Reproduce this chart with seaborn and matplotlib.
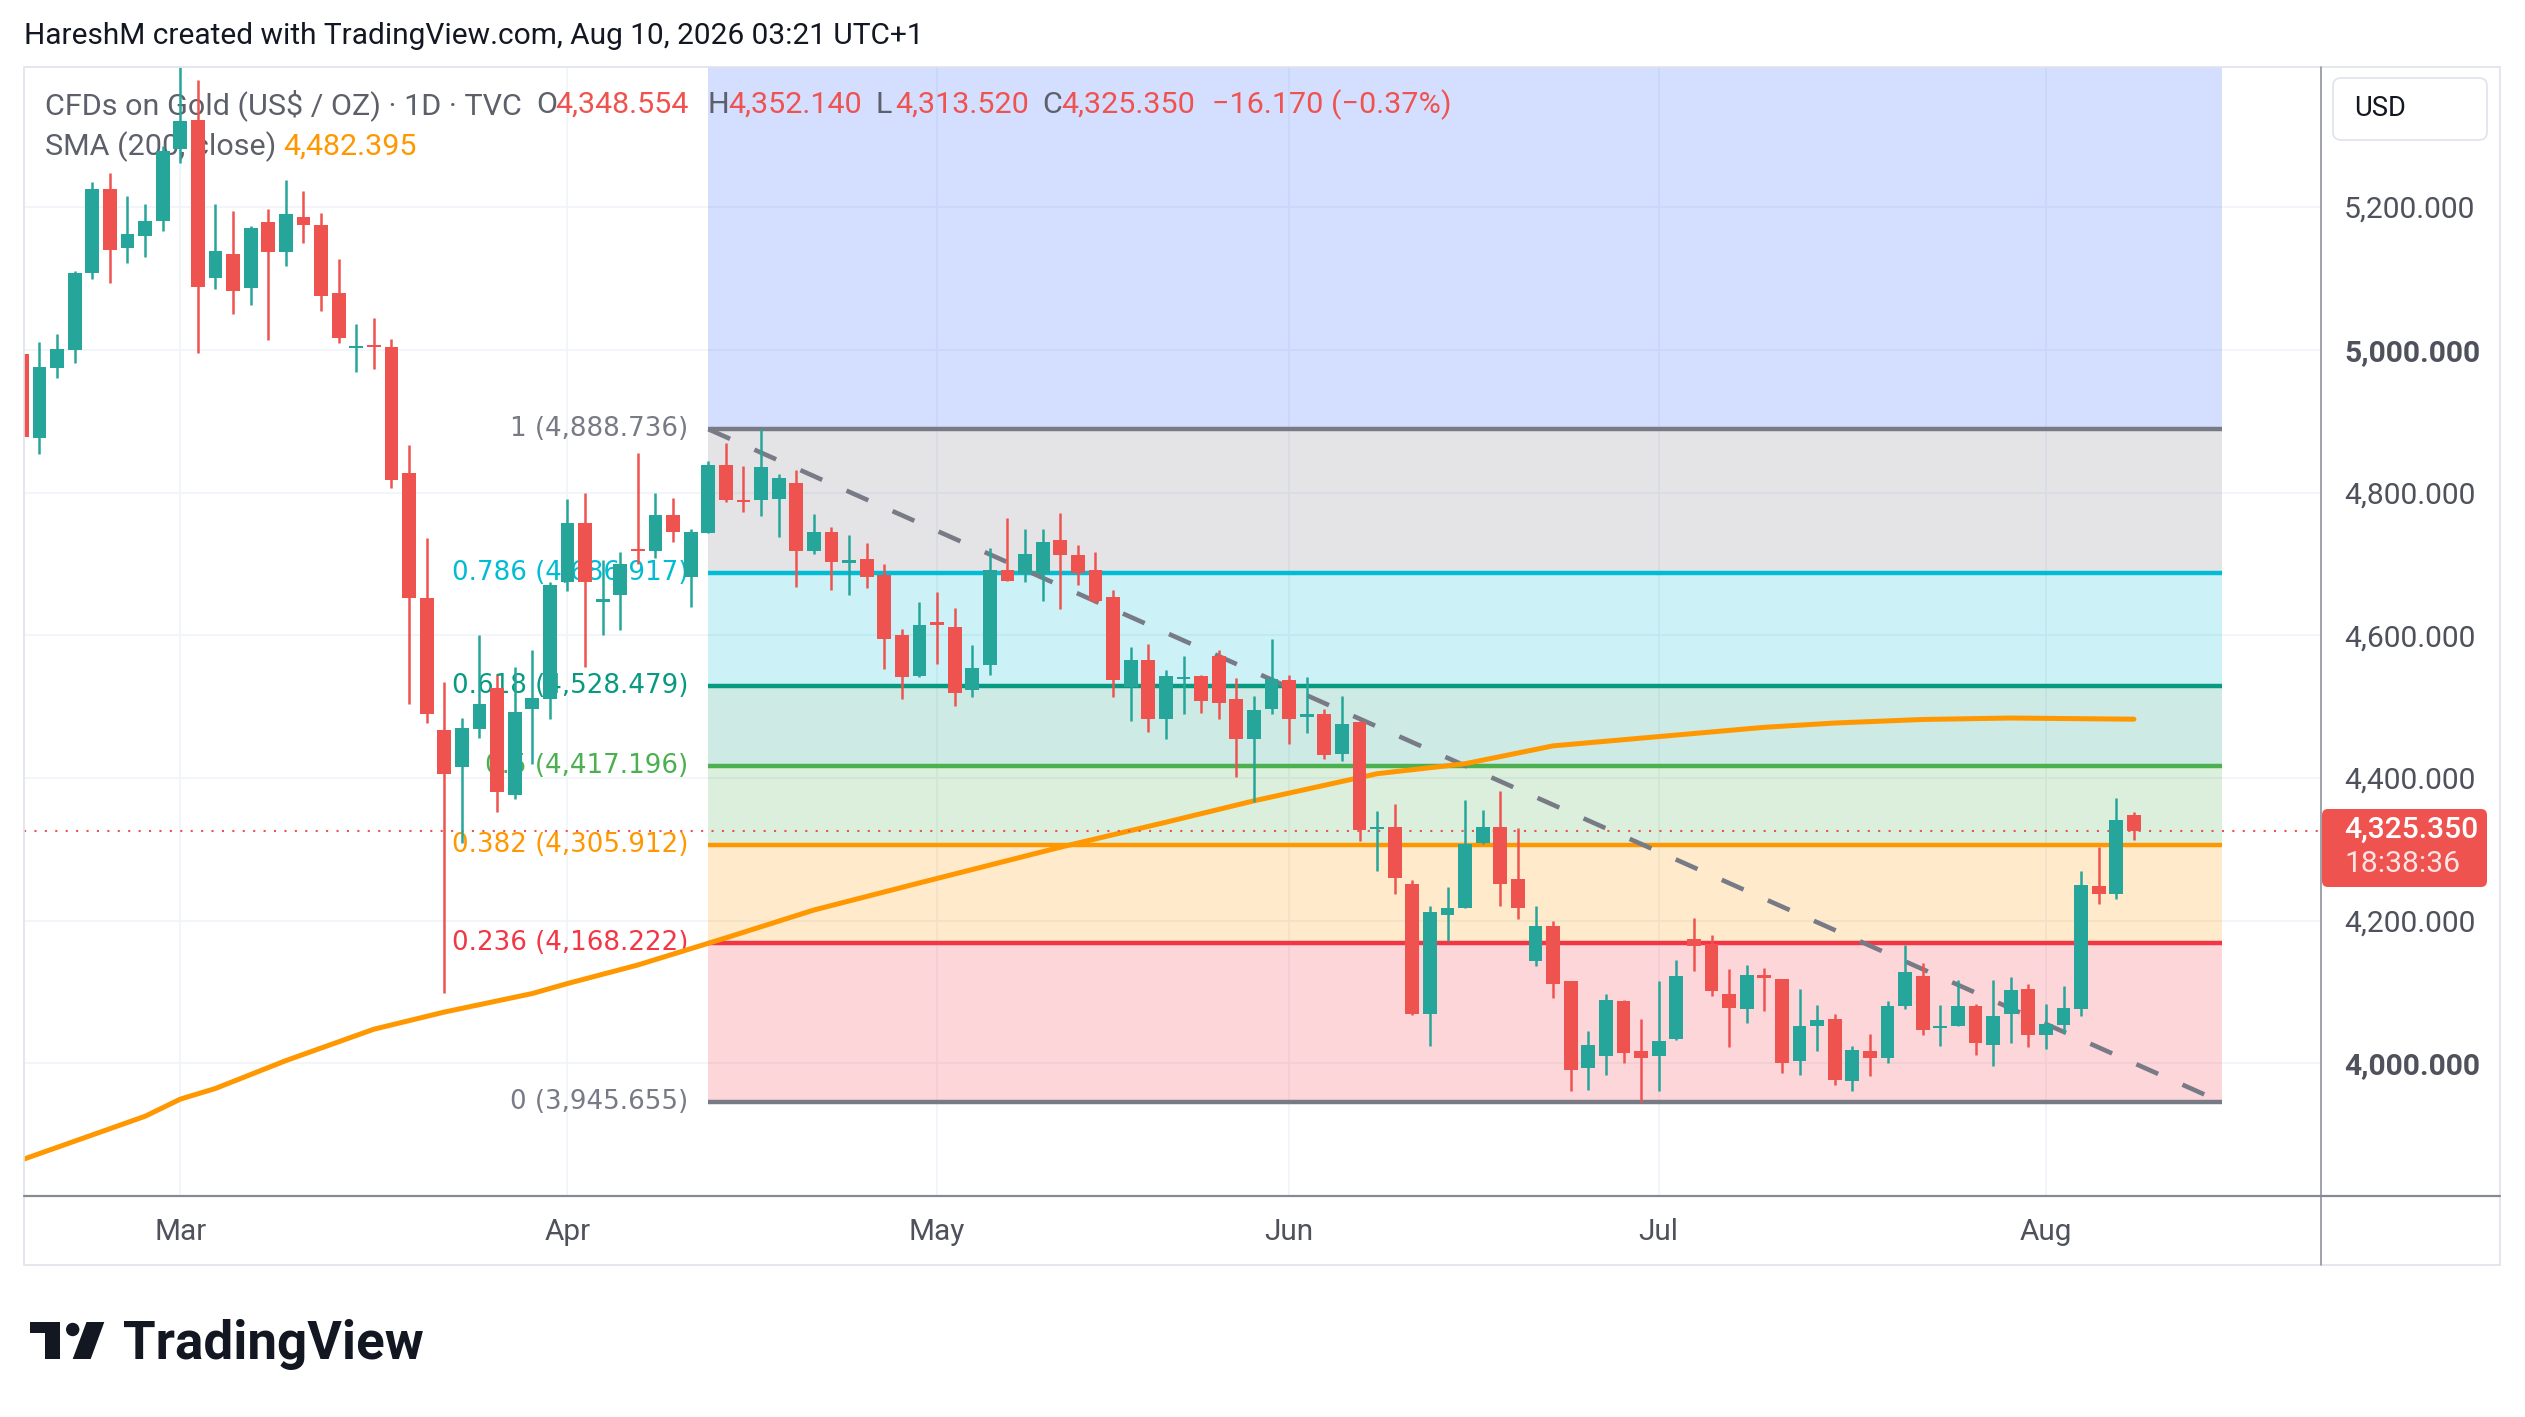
import matplotlib
matplotlib.use("Agg")
import matplotlib.pyplot as plt
import numpy as np
import pandas as pd
import seaborn as sns
from matplotlib.patches import Polygon, Circle, FancyBboxPatch, Rectangle

# ---------------- data (bar index 0 = Feb 17 2026, 120 = Aug 10 2026) ----------------
OPEN = [4994, 4876, 4975, 5000, 5107, 5225, 5143, 5159, 5180, 5282,
        5322, 5101, 5134, 5086, 5179, 5137, 5186, 5175, 5079, 5002,
        5007, 5004, 4828, 4652, 4467, 4415, 4468, 4526, 4376, 4497,
        4511, 4675, 4757, 4647, 4657, 4721, 4718, 4768, 4682, 4743,
        4839, 4789, 4789, 4791, 4814, 4718, 4745, 4701, 4707, 4685,
        4600, 4543, 4618, 4612, 4523, 4559, 4692, 4686, 4686, 4734,
        4712, 4691, 4653, 4528, 4566, 4483, 4539, 4543, 4571, 4511,
        4454, 4497, 4537, 4486, 4489, 4433, 4479, 4329, 4331, 4252,
        4069, 4208, 4218, 4309, 4331, 4258, 4144, 4192, 4116, 3994,
        4010, 4087, 4018, 4011, 4034, 4175, 4167, 4098, 4076, 4124,
        4119, 4003, 4052, 4062, 3976, 4017, 4008, 4081, 4123, 4050,
        4052, 4080, 4026, 4069, 4104, 4040, 4054, 4076, 4249, 4238,
        4348.554]
HIGH = [4998, 5011, 5022, 5110, 5235, 5248, 5216, 5204, 5285, 5396,
        5378, 5204, 5194, 5173, 5197, 5238, 5223, 5192, 5127, 5036,
        5045, 5015, 4866, 4736, 4535, 4484, 4601, 4545, 4555, 4580,
        4675, 4791, 4800, 4705, 4717, 4855, 4800, 4793, 4749, 4844,
        4869, 4837, 4888.7, 4826, 4832, 4770, 4752, 4740, 4729, 4700,
        4609, 4647, 4660, 4638, 4587, 4722, 4764, 4749, 4749, 4771,
        4726, 4717, 4664, 4584, 4588, 4552, 4571, 4545, 4580, 4540,
        4515, 4595, 4545, 4541, 4497, 4515, 4480, 4354, 4364, 4257,
        4220, 4247, 4369, 4355, 4382, 4330, 4221, 4199, 4116, 4045,
        4097, 4089, 4063, 4116, 4145, 4204, 4180, 4133, 4138, 4134,
        4119, 4104, 4082, 4069, 4025, 4041, 4088, 4166, 4141, 4082,
        4117, 4083, 4117, 4121, 4111, 4083, 4108, 4269, 4304, 4372,
        4352.140]
LOW = [4858, 4854, 4960, 4981, 5099, 5093, 5122, 5130, 5167, 5261,
       4996, 5085, 5050, 5063, 5014, 5118, 5149, 5055, 5010, 4969,
       4973, 4807, 4503, 4477, 4099, 4309, 4456, 4352, 4370, 4419,
       4483, 4662, 4555, 4601, 4607, 4700, 4708, 4730, 4639, 4743,
       4786, 4772, 4767, 4737, 4668, 4714, 4663, 4657, 4666, 4553,
       4510, 4541, 4560, 4501, 4514, 4545, 4676, 4674, 4648, 4637,
       4670, 4645, 4513, 4480, 4465, 4454, 4489, 4491, 4482, 4402,
       4367, 4489, 4447, 4463, 4427, 4424, 4312, 4269, 4238, 4068,
       4025, 4171, 4218, 4308, 4220, 4202, 4137, 4092, 3961, 3963,
       3984, 4001, 3946, 3961, 4033, 4129, 4094, 4023, 4056, 4074,
       3987, 3984, 4018, 3970, 3961, 3983, 4001, 4077, 4040, 4024,
       4052, 4012, 3997, 4029, 4023, 4020, 4042, 4066, 4224, 4231,
       4313.520]
CLOSE = [4878, 4976, 5001, 5108, 5225, 5140, 5162, 5180, 5278, 5320,
         5088, 5139, 5083, 5171, 5137, 5190, 5175, 5076, 5017, 5005,
         5004, 4818, 4652, 4490, 4406, 4470, 4504, 4381, 4492, 4512,
         4670, 4757, 4675, 4651, 4700, 4718, 4768, 4744, 4744, 4839,
         4789, 4786, 4836, 4820, 4718, 4744, 4702, 4706, 4681, 4595,
         4541, 4615, 4615, 4519, 4554, 4691, 4676, 4714, 4731, 4713,
         4687, 4648, 4537, 4566, 4483, 4543, 4542, 4508, 4505, 4454,
         4495, 4539, 4483, 4489, 4432, 4476, 4327, 4332, 4260, 4069,
         4212, 4218, 4308, 4331, 4251, 4218, 4192, 4112, 3991, 4026,
         4089, 4015, 4007, 4032, 4123, 4164, 4101, 4078, 4124, 4120,
         4001, 4053, 4061, 3977, 4019, 4008, 4081, 4128, 4047, 4053,
         4081, 4028, 4066, 4103, 4040, 4055, 4078, 4250, 4238, 4341.52,
         4325.350]

MONTH_LABELS = ["Mar", "Apr", "May", "Jun", "Jul", "Aug"]
MONTH_BARS = [9, 31, 52, 72, 93, 115]
PRICE_TICKS = [4000, 4200, 4400, 4600, 4800, 5000, 5200]

SMA_BARS = [0, 7, 9, 11, 15, 20, 24, 29, 31, 35, 40, 45, 51, 59, 65, 70, 77,
            82, 87, 93, 99, 103, 108, 113, 120]
SMA_VALUES = [3865, 3926, 3950, 3965, 4004, 4048, 4072, 4098, 4112, 4138, 4176,
              4215, 4253, 4303, 4338, 4368, 4406, 4420, 4445, 4458, 4471, 4477,
              4482, 4484, 4482.395]

FIB_NAMES = ["0", "0.236", "0.382", "0.5", "0.618", "0.786", "1"]
FIB_LEVELS = [3945.655, 4168.222, 4305.912, 4417.196, 4528.479, 4686.917, 4888.736]
FIB_BARS = [39, 125]
TREND_BARS = [39, 125]
TREND_VALUES = [4888.736, 3945.655]

TITLE = "HareshM created with TradingView.com, Aug 10, 2026 03:21 UTC+1"
SYMBOL = "CFDs on Gold (US$ / OZ) \u00b7 1D \u00b7 TVC"
COUNTDOWN = "18:38:36"

# ---------------- style ----------------
GREEN, RED = "#26a69a", "#ef5350"
FIB_COLORS = ["#787b86", "#f23645", "#ff9800", "#4caf50", "#089981", "#00bcd4", "#787b86"]
BLUE = "#2962ff"
GRID = "#f0f3fa"
AXTXT = "#4f525c"
LEGTXT = "#5d606b"

sns.set_theme(style="white")
plt.rcParams['font.family'] = ['Roboto', 'DejaVu Sans']

W, H = 2525, 1417
fig = plt.figure(figsize=(W / 100, H / 100), dpi=100)
fig.patch.set_facecolor("white")
renderer = fig.canvas.get_renderer()


def fit(txt, target, family=None, weight="normal"):
    kw = {"family": family} if family else {}
    t = fig.text(0, 0, txt, fontsize=20, weight=weight, **kw)
    bb = t.get_window_extent(renderer)
    t.remove()
    return 20 * target / bb.width, bb.height / 20


PL, PT, PR, PB = 24, 67, 2321, 1196
ax = fig.add_axes([PL / W, 1 - PB / H, (PR - PL) / W, (PB - PT) / H])
ov = fig.add_axes([0, 0, 1, 1])
ov.set_xlim(0, W)
ov.set_ylim(H, 0)
ov.axis("off")
ov.set_zorder(5)

ax.set_facecolor("white")
ax.set_xlim(0.12, 130.63)
ax.set_ylim(3814.3, 5396.2)
for s in ax.spines.values():
    s.set_visible(False)

# grid
for b in MONTH_BARS:
    ax.axvline(b, color=GRID, lw=1.2, zorder=0)
for p in PRICE_TICKS:
    ax.axhline(p, color=GRID, lw=1.2, zorder=0)

# fib retracement
ax.fill_between(FIB_BARS, FIB_LEVELS[-1], 5600, color=BLUE, alpha=0.2, lw=0, zorder=1)
for i in range(len(FIB_LEVELS) - 1):
    ax.fill_between(FIB_BARS, FIB_LEVELS[i], FIB_LEVELS[i + 1], color=FIB_COLORS[i + 1],
                    alpha=0.2, lw=0, zorder=1)
fib_fs, _ = fit("0.382 (4,305.912)", 237, family="DejaVu Sans")
for name, lv, c in zip(FIB_NAMES, FIB_LEVELS, FIB_COLORS):
    ax.hlines(lv, FIB_BARS[0], FIB_BARS[1], color=c, lw=3.2, zorder=2)
    ax.text(37.85, lv, f"{name} ({lv:,.3f})", ha="right", va="center", color=c,
            fontsize=fib_fs, family="DejaVu Sans", zorder=1.5)

# trend line and SMA
sns.lineplot(x=TREND_BARS, y=TREND_VALUES, ax=ax, color="#787b86", lw=3.3,
             linestyle=(0, (5.2, 5.8)), zorder=3)
sns.lineplot(x=SMA_BARS, y=SMA_VALUES, ax=ax, color="#ff9800", lw=3.6, zorder=3)

# candles
n = len(OPEN)
df = pd.DataFrame({"bar": np.arange(n), "open": OPEN, "high": HIGH,
                   "low": LOW, "close": CLOSE})
up = df["close"] >= df["open"]
cols = np.where(up, GREEN, RED)
ax.vlines(df["bar"], df["low"], df["high"], colors=cols, lw=1.8, zorder=4)
lo = np.minimum(df["open"], df["close"])
hgt = np.maximum((df["close"] - df["open"]).abs(), 2.8)
ax.bar(df["bar"], hgt, bottom=lo, width=0.78, color=cols, linewidth=0, zorder=5)

# last price dotted line
last = CLOSE[-1]
ax.axhline(last, color=RED, lw=1.5, ls=(0, (1, 4)), zorder=3.6)

# axes ticks
ax_fs, _ = fit("5,200.000", 132)
ax.yaxis.tick_right()
ax.set_yticks(PRICE_TICKS)
ax.set_yticklabels([f"{v:,.3f}" for v in PRICE_TICKS])
ax.tick_params(axis="y", length=0, pad=23 * 0.72, labelsize=ax_fs, labelcolor=AXTXT)
for lab in ax.get_yticklabels():
    if lab.get_text() in ("5,000.000", "4,000.000"):
        lab.set_fontweight("bold")
mon_fs, mon_h = fit("May", 56)
ax.set_xticks(MONTH_BARS)
ax.set_xticklabels(MONTH_LABELS)
hpx = mon_h * mon_fs
ax.tick_params(axis="x", length=0, pad=(36 - hpx / 2) * 0.72, labelsize=mon_fs,
               labelcolor=AXTXT)
ax.set_xlabel("")
ax.set_ylabel("")

# frame lines
ov.add_patch(Rectangle((PL, PT), 2500 - PL, 1265 - PT, fill=False, ec="#e0e3eb", lw=1.2))
ov.plot([PL, 2500], [PB, PB], color="#868993", lw=1.6)
ov.plot([PR, PR], [PT, 1265], color="#868993", lw=1.1)

# USD box
ov.add_patch(FancyBboxPatch((2333, 78), 154, 62, boxstyle="round,pad=0,rounding_size=8",
                            fc="white", ec="#e0e3eb", lw=1.2))
usd_fs, _ = fit("USD", 52)
ov.text(2354, 109, "USD", ha="left", va="center", fontsize=usd_fs, color="#131722")

# last price label
ov.add_patch(FancyBboxPatch((2322, 809), 165, 78, boxstyle="round,pad=0,rounding_size=6",
                            fc=RED, ec="none"))
ov.text(2344, 830, f"{last:,.3f}", ha="left", va="center", fontsize=ax_fs, color="white",
        weight="medium")
ov.text(2344, 864, COUNTDOWN, ha="left", va="center", fontsize=ax_fs, color="white",
        alpha=0.85)

# title
t_fs, _ = fit(TITLE, 899)
ov.text(24, 36, TITLE, ha="left", va="center", fontsize=t_fs, color="#131722")

# legend (under candles)
leg_fs, _ = fit("4,348.554", 134)
chg = CLOSE[-1] - CLOSE[-2]
pct = chg / CLOSE[-2] * 100
def fmt_signed(v, fmt):
    s = format(abs(v), fmt)
    return ("\u2212" if v < 0 else "+") + s
pieces = [(45, SYMBOL, LEGTXT), (536, "O", LEGTXT), (555, f"{OPEN[-1]:,.3f}", RED),
          (707, "H", LEGTXT), (728, f"{HIGH[-1]:,.3f}", RED),
          (876, "L", LEGTXT), (895, f"{LOW[-1]:,.3f}", RED),
          (1042, "C", LEGTXT), (1061, f"{CLOSE[-1]:,.3f}", RED),
          (1212, f"{fmt_signed(chg, ',.3f')} ({fmt_signed(pct, '.2f')}%)", RED)]
for x, s, c in pieces:
    ax.text(x, 105, s, transform=ov.transData, ha="left", va="center",
            fontsize=leg_fs, color=c, zorder=3.5)
ax.text(45, 147, "SMA (200, close)", transform=ov.transData, ha="left", va="center",
        fontsize=leg_fs, color=LEGTXT, zorder=3.5)
ax.text(283, 147, f"{SMA_VALUES[-1]:,.3f}", transform=ov.transData, ha="left",
        va="center", fontsize=leg_fs, color="#ff9800", zorder=3.5)

# watermark logo
ov.add_patch(Polygon([(30, 1322), (60, 1322), (60, 1359), (45, 1359), (45, 1333), (30, 1333)],
                     closed=True, fc="#131722", ec="none"))
ov.add_patch(Circle((72.7, 1329.5), 6.7, fc="#131722", ec="none"))
ov.add_patch(Polygon([(86.5, 1322), (104.3, 1322), (90.7, 1359), (72.7, 1359)],
                     closed=True, fc="#131722", ec="none"))
wm_fs, _ = fit("TradingView", 300, weight="bold")
ov.text(122.7, 1359, "TradingView", ha="left", va="baseline", fontsize=wm_fs,
        weight="bold", color="#131722")

fig.savefig("out.png", dpi=100, facecolor="white")
